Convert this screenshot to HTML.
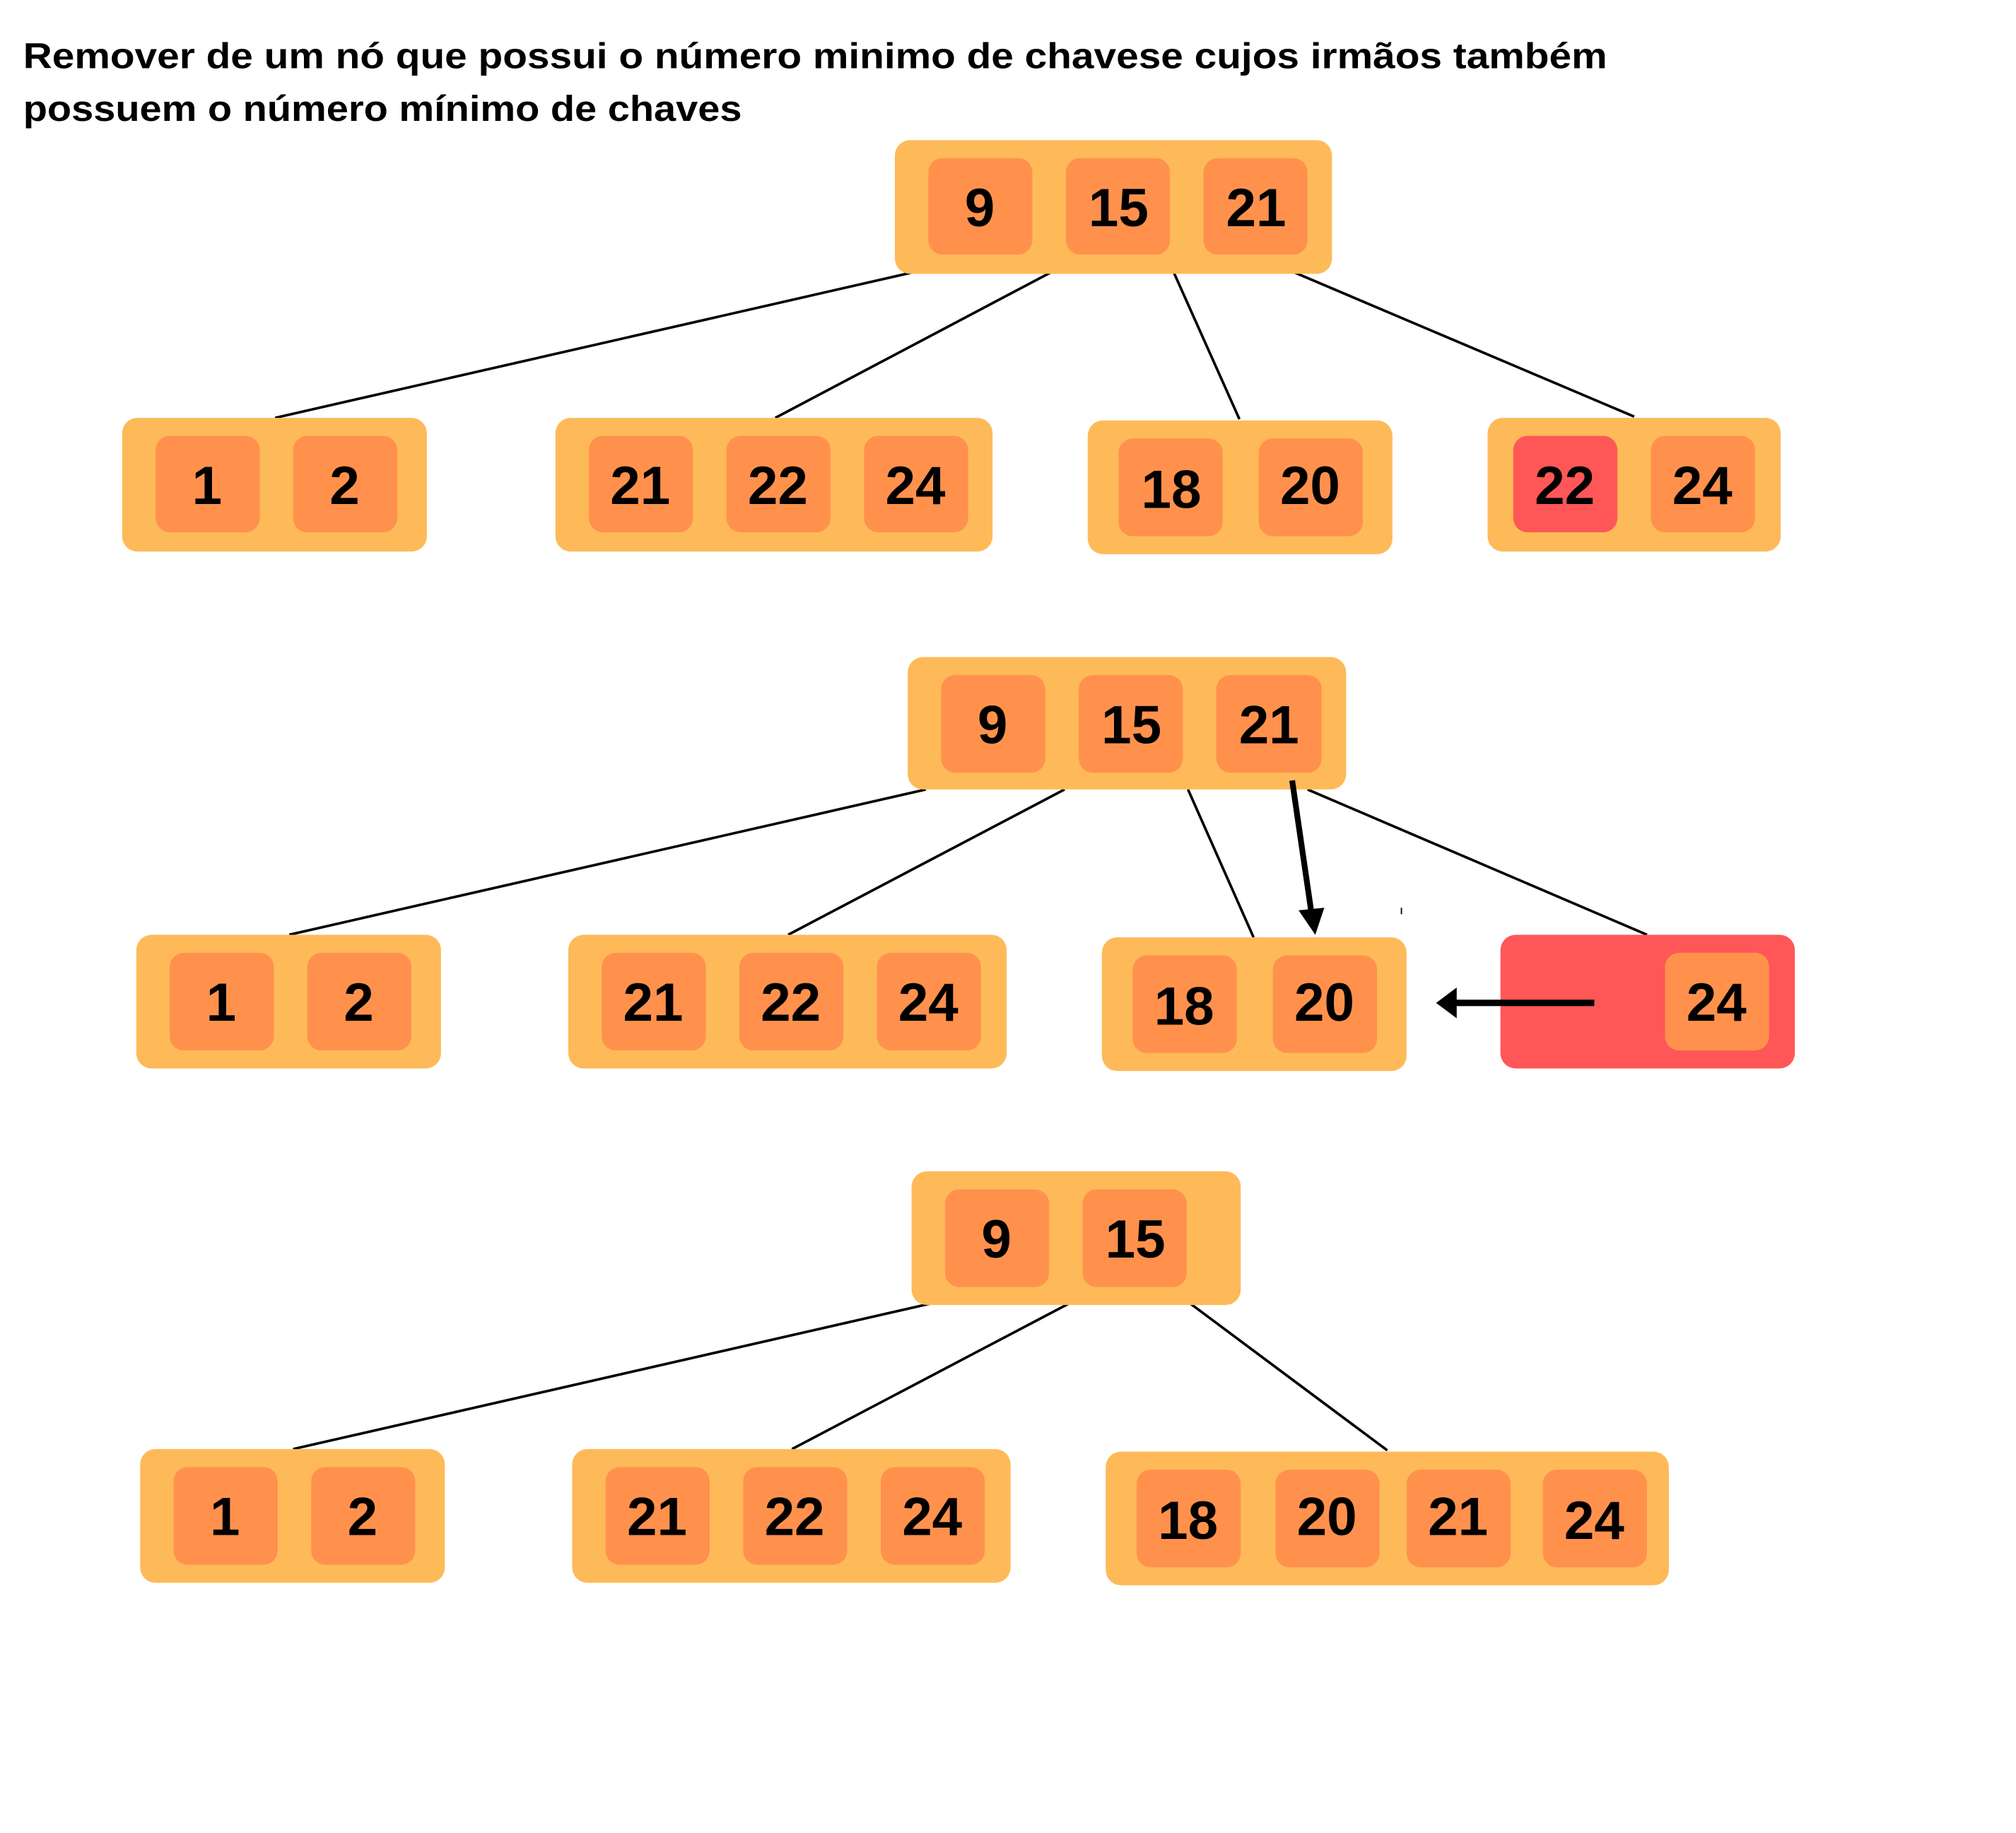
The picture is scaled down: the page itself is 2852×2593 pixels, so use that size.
<!DOCTYPE html>
<html><head><meta charset="utf-8"><style>
html,body{margin:0;padding:0;background:#fff;}
svg{display:block;}
text{font-family:"Liberation Sans","DejaVu Sans",sans-serif;font-weight:bold;}
.o{fill:#FEBA59}.k{fill:#FF914D}.r{fill:#FF5757}
.n{font-size:42px;text-anchor:middle;fill:#000}
line{stroke:#000;stroke-width:2}
</style></head><body>
<svg width="2852" height="2593" viewBox="0 0 1568 1425.6" preserveAspectRatio="none" xmlns="http://www.w3.org/2000/svg">
<text x="18" y="53" font-size="28" textLength="1232" lengthAdjust="spacingAndGlyphs">Remover de um nó  que possui o número minimo de chavese cujos  irmãos também</text>
<text x="18" y="94" font-size="28" textLength="559" lengthAdjust="spacingAndGlyphs">possuem o número mínimo de chaves</text>

<!-- Tree 1 -->
<line x1="709" y1="212" x2="214" y2="325"/><line x1="817" y1="212" x2="603" y2="325"/>
<line x1="913" y1="212" x2="964" y2="326"/><line x1="1007" y1="212" x2="1271" y2="324"/>
<rect class="o" x="696" y="109" width="340" height="104" rx="12"/>
<rect class="k" x="722" y="123" width="81" height="75" rx="11"/><text class="n" x="762" y="176">9</text>
<rect class="k" x="829" y="123" width="81" height="75" rx="11"/><text class="n" x="870" y="176">15</text>
<rect class="k" x="936" y="123" width="81" height="75" rx="11"/><text class="n" x="977" y="176">21</text>

<rect class="o" x="95" y="325" width="237" height="104" rx="12"/>
<rect class="k" x="121" y="339" width="81" height="75" rx="11"/><text class="n" x="161" y="392">1</text>
<rect class="k" x="228" y="339" width="81" height="75" rx="11"/><text class="n" x="268" y="392">2</text>
<rect class="o" x="432" y="325" width="340" height="104" rx="12"/>
<rect class="k" x="458" y="339" width="81" height="75" rx="11"/><text class="n" x="498" y="392">21</text>
<rect class="k" x="565" y="339" width="81" height="75" rx="11"/><text class="n" x="605" y="392">22</text>
<rect class="k" x="672" y="339" width="81" height="75" rx="11"/><text class="n" x="712" y="392">24</text>
<rect class="o" x="846" y="327" width="237" height="104" rx="12"/>
<rect class="k" x="870" y="341" width="81" height="76" rx="11"/><text class="n" x="911" y="395">18</text>
<rect class="k" x="979" y="341" width="81" height="76" rx="11"/><text class="n" x="1019" y="392">20</text>
<rect class="o" x="1157" y="325" width="228" height="104" rx="12"/>
<rect class="r" x="1177" y="339" width="81" height="75" rx="11"/><text class="n" x="1217" y="392">22</text>
<rect class="k" x="1284" y="339" width="81" height="75" rx="11"/><text class="n" x="1324" y="392">24</text>

<!-- Tree 2 -->
<line x1="720" y1="614" x2="225" y2="727"/><line x1="828" y1="614" x2="613" y2="727"/>
<line x1="924" y1="614" x2="975" y2="729"/><line x1="1017" y1="614" x2="1281" y2="727"/>
<rect class="o" x="706" y="511" width="341" height="103" rx="12"/>
<rect class="k" x="732" y="525" width="81" height="76" rx="11"/><text class="n" x="772" y="578">9</text>
<rect class="k" x="839" y="525" width="81" height="76" rx="11"/><text class="n" x="880" y="578">15</text>
<rect class="k" x="946" y="525" width="82" height="76" rx="11"/><text class="n" x="987" y="578">21</text>
<line x1="1005" y1="607" x2="1020" y2="710" style="stroke-width:4.5"/>
<polygon points="1010,708 1030,706 1023,727"/>

<rect class="o" x="106" y="727" width="237" height="104" rx="12"/>
<rect class="k" x="132" y="741" width="81" height="76" rx="11"/><text class="n" x="172" y="794">1</text>
<rect class="k" x="239" y="741" width="81" height="76" rx="11"/><text class="n" x="279" y="794">2</text>
<rect class="o" x="442" y="727" width="341" height="104" rx="12"/>
<rect class="k" x="468" y="741" width="81" height="76" rx="11"/><text class="n" x="508" y="794">21</text>
<rect class="k" x="575" y="741" width="81" height="76" rx="11"/><text class="n" x="615" y="794">22</text>
<rect class="k" x="682" y="741" width="81" height="76" rx="11"/><text class="n" x="722" y="794">24</text>
<rect class="o" x="857" y="729" width="237" height="104" rx="12"/>
<rect class="k" x="881" y="743" width="81" height="76" rx="11"/><text class="n" x="921" y="797">18</text>
<rect class="k" x="990" y="743" width="81" height="76" rx="11"/><text class="n" x="1030" y="794">20</text>
<rect class="r" x="1167" y="727" width="229" height="104" rx="12"/>
<rect class="k" x="1295" y="741" width="81" height="76" rx="11"/><text class="n" x="1335" y="794">24</text>
<line x1="1240" y1="780" x2="1130" y2="780" style="stroke-width:5"/>
<polygon points="1133,768 1133,792 1117,780"/>
<line x1="1090" y1="706" x2="1090" y2="711" style="stroke-width:1"/>

<!-- Tree 3 -->
<line x1="723" y1="1014" x2="228" y2="1127"/><line x1="831" y1="1014" x2="616" y2="1127"/>
<line x1="926" y1="1014" x2="1079" y2="1128"/>
<rect class="o" x="709" y="911" width="256" height="104" rx="12"/>
<rect class="k" x="735" y="925" width="81" height="76" rx="11"/><text class="n" x="775" y="978">9</text>
<rect class="k" x="842" y="925" width="81" height="76" rx="11"/><text class="n" x="883" y="978">15</text>

<rect class="o" x="109" y="1127" width="237" height="104" rx="12"/>
<rect class="k" x="135" y="1141" width="81" height="76" rx="11"/><text class="n" x="175" y="1194">1</text>
<rect class="k" x="242" y="1141" width="81" height="76" rx="11"/><text class="n" x="282" y="1194">2</text>
<rect class="o" x="445" y="1127" width="341" height="104" rx="12"/>
<rect class="k" x="471" y="1141" width="81" height="76" rx="11"/><text class="n" x="511" y="1194">21</text>
<rect class="k" x="578" y="1141" width="81" height="76" rx="11"/><text class="n" x="618" y="1194">22</text>
<rect class="k" x="685" y="1141" width="81" height="76" rx="11"/><text class="n" x="725" y="1194">24</text>
<rect class="o" x="860" y="1129" width="438" height="104" rx="12"/>
<rect class="k" x="884" y="1143" width="81" height="76" rx="11"/><text class="n" x="924" y="1197">18</text>
<rect class="k" x="992" y="1143" width="81" height="76" rx="11"/><text class="n" x="1032" y="1194">20</text>
<rect class="k" x="1094" y="1143" width="81" height="76" rx="11"/><text class="n" x="1134" y="1194">21</text>
<rect class="k" x="1200" y="1143" width="81" height="76" rx="11"/><text class="n" x="1240" y="1197">24</text>
</svg>
</body></html>
